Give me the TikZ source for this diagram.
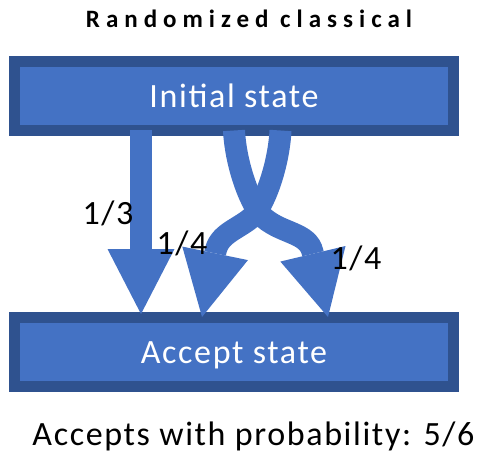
\documentclass[tikz,border=0pt]{standalone}
\usepackage{fontspec}
\setmainfont{Carlito}[LetterSpace=4.8]
\newfontfamily\titlefont{Carlito}[LetterSpace=24]
\usetikzlibrary{arrows.meta}

\definecolor{boxblue}{RGB}{68,114,196}
\definecolor{boxedge}{RGB}{47,82,143}

\tikzset{
  statebox/.style={rectangle, draw=boxedge, fill=boxblue, line width=11pt,
    minimum width=439pt, minimum height=69pt, inner sep=0pt, outer sep=0pt,
    text=white, text height=23pt, text depth=0pt,
    font=\fontsize{34}{40}\selectfont},
  flow/.style={draw=boxblue, line width=22pt,
    -{Triangle[width=67pt,length=65pt,line width=0pt]}},
  problabel/.style={anchor=base, inner sep=0pt,
    font=\fontsize{34}{40}\selectfont},
}

\begin{document}
\begin{tikzpicture}[x=1pt,y=1pt]
\useasboundingbox (0,0) rectangle (479,453);
\node[anchor=base, font=\fontsize{25}{30}\selectfont\titlefont\bfseries] (title) at (249,425) {Randomized classical};
\node[statebox] (init) at (234,357) {Initial state};
\node[statebox] (accept) at (234,101) {Accept state};
% tips of the three arrows
\coordinate (tip13) at (141,139);
\coordinate (tipL) at (202,136);
\coordinate (tipR) at (328,136);
\draw[flow] (init.south -| 141,0) -- (tip13);
\draw[flow] (init.south -| 234,0) .. controls (236,285) and (252,245) .. (264,235)
  .. controls (283,219) and (308,220.5) .. (312.5,201) -- (tipR);
\draw[flow] (init.south -| 280.5,0) .. controls (278.5,285) and (263,245) .. (251,235)
  .. controls (237,223.5) and (219,219) .. (215.5,201.5) -- (tipL);
\node[problabel] (p13) at (108,228) {1/3};
\node[problabel] (p14l) at (182,198) {1/4};
\node[problabel] (p14r) at (356,183) {1/4};
\node[problabel] (result) at (253.5,8) {Accepts with probability: 5/6};
\end{tikzpicture}
\end{document}
